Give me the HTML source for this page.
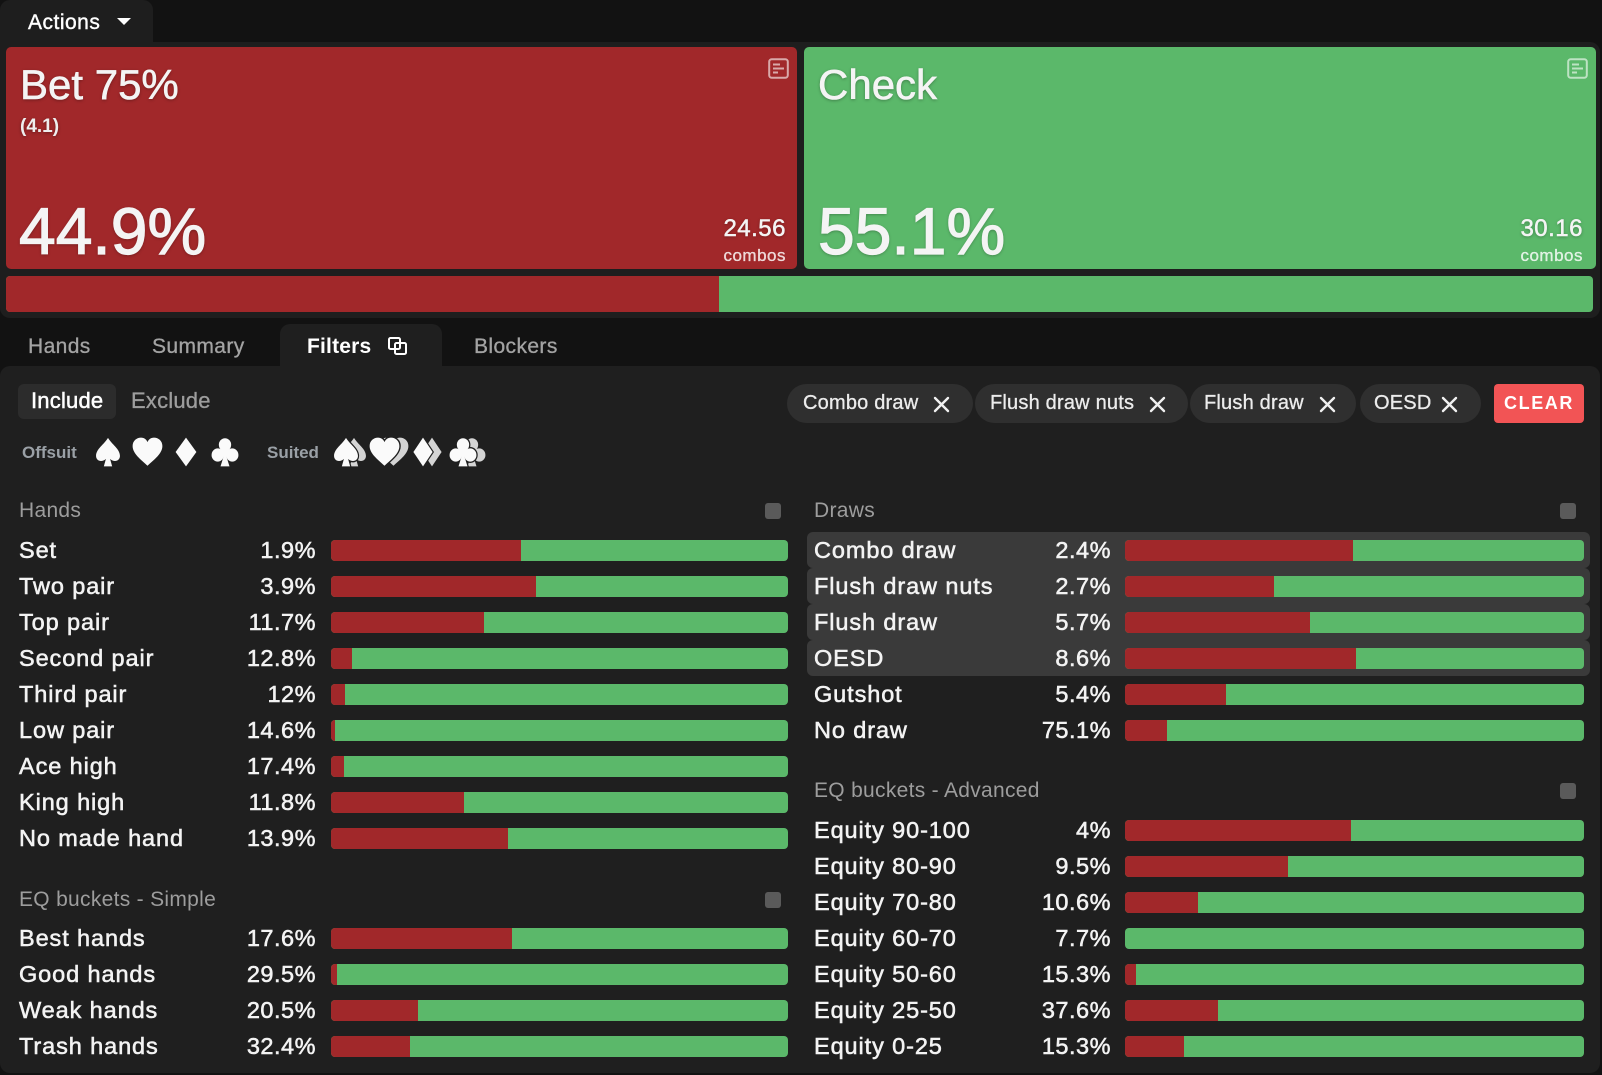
<!DOCTYPE html>
<html>
<head>
<meta charset="utf-8">
<style>
*{margin:0;padding:0;box-sizing:border-box}
html,body{width:1602px;height:1075px;background:#121212;overflow:hidden}
body{position:relative;font-family:"Liberation Sans",Arial,sans-serif;color:#f2f2f2}
.a{position:absolute;white-space:nowrap}
.panel{position:absolute;background:#1e1e1e}
.card{position:absolute;top:47px;height:222px;border-radius:5px}
.sh{text-shadow:0 1px 3px rgba(0,0,0,.35)}
.st{-webkit-text-stroke:.6px currentColor}
.r{position:absolute;left:0;width:1602px;height:36px}
.r .l,.r .v{position:absolute;top:0;line-height:36px;font-size:23.5px;letter-spacing:.9px;color:#f3f3f3;-webkit-text-stroke:.55px #f3f3f3}
.r .v{text-align:right;letter-spacing:.5px}
.r .b{position:absolute;top:8px;height:21px;background:#5bb86a;border-radius:4px;overflow:hidden}
.r .b i{position:absolute;left:0;top:0;bottom:0;background:#a1282a;display:block}
.L .l{left:19px}.L .v{left:180px;width:136px}.L .b{left:331px;width:457px}
.R .l{left:814px}.R .v{left:975px;width:136px}.R .b{left:1125px;width:459px}
.hl{position:absolute;left:807px;width:783px;height:36px;background:#3a3a3a;border-radius:6px}
.ttl{position:absolute;font-size:21px;line-height:21px;color:#9d9d9d;letter-spacing:.3px}
.cb{position:absolute;width:16px;height:16px;border-radius:3px;background:#5a5a5a}
.chip{position:absolute;top:384px;height:39px;border-radius:20px;background:#2f2f2f}
.chip span{position:absolute;top:0;line-height:39px;font-size:20px;color:#ececec;letter-spacing:.2px;-webkit-text-stroke:.3px #ececec}
.tab{position:absolute;top:336px;font-size:21px;line-height:21px;color:#a3a3a3;letter-spacing:.4px;-webkit-text-stroke:.3px #a3a3a3}
</style>
</head>
<body>

<!-- Actions tab -->
<div class="panel" style="left:0;top:0;width:153px;height:44px;border-radius:10px 10px 0 0"></div>
<div class="a" style="left:28px;top:12px;font-size:21px;line-height:21px;letter-spacing:.5px;color:#fff;-webkit-text-stroke:.4px #fff">Actions</div>
<svg class="a" style="left:117px;top:18px" width="15" height="8"><polygon points="0,0 14,0 7,7" fill="#fff"/></svg>

<!-- top panel -->
<div class="panel" style="left:0;top:42px;width:1600px;height:276px;border-radius:0 10px 10px 10px"></div>

<!-- Bet card -->
<div class="card" style="left:6px;width:791px;background:#a1282a"></div>
<div class="a sh st" style="left:20px;top:64px;font-size:42px;line-height:42px;color:#f4f4f4">Bet 75%</div>
<div class="a sh" style="left:20px;top:117px;font-size:19px;line-height:19px;font-weight:bold;color:#eee">(4.1)</div>
<div class="a sh" style="left:19px;top:198px;font-size:66px;line-height:67px;color:#f4f4f4;-webkit-text-stroke:1.2px #f4f4f4">44.9%</div>
<div class="a sh" style="right:816px;top:217px;font-size:24px;line-height:24px;letter-spacing:.5px;color:#f4f4f4;-webkit-text-stroke:.5px #f4f4f4">24.56</div>
<div class="a" style="right:816px;top:247px;font-size:17px;line-height:17px;letter-spacing:.5px;color:rgba(255,255,255,.8);-webkit-text-stroke:.3px rgba(255,255,255,.8)">combos</div>
<svg class="a" style="left:768px;top:58px" width="21" height="21" viewBox="0 0 21 21"><rect x="1.2" y="1.2" width="18.6" height="18.6" rx="2.5" fill="none" stroke="rgba(255,255,255,.6)" stroke-width="2"/><rect x="5" y="5.5" width="7" height="2" fill="rgba(255,255,255,.6)"/><rect x="5" y="9.5" width="11" height="2" fill="rgba(255,255,255,.6)"/><rect x="5" y="13.5" width="5" height="2" fill="rgba(255,255,255,.6)"/></svg>

<!-- Check card -->
<div class="card" style="left:804px;width:792px;background:#5bb86a"></div>
<div class="a sh st" style="left:818px;top:64px;font-size:42px;line-height:42px;color:#f4f4f4">Check</div>
<div class="a sh" style="left:818px;top:198px;font-size:66px;line-height:67px;color:#f4f4f4;-webkit-text-stroke:1.2px #f4f4f4">55.1%</div>
<div class="a sh" style="right:19px;top:217px;font-size:24px;line-height:24px;letter-spacing:.5px;color:#f4f4f4;-webkit-text-stroke:.5px #f4f4f4">30.16</div>
<div class="a" style="right:19px;top:247px;font-size:17px;line-height:17px;letter-spacing:.5px;color:rgba(255,255,255,.8);-webkit-text-stroke:.3px rgba(255,255,255,.8)">combos</div>
<svg class="a" style="left:1567px;top:58px" width="21" height="21" viewBox="0 0 21 21"><rect x="1.2" y="1.2" width="18.6" height="18.6" rx="2.5" fill="none" stroke="rgba(255,255,255,.6)" stroke-width="2"/><rect x="5" y="5.5" width="7" height="2" fill="rgba(255,255,255,.6)"/><rect x="5" y="9.5" width="11" height="2" fill="rgba(255,255,255,.6)"/><rect x="5" y="13.5" width="5" height="2" fill="rgba(255,255,255,.6)"/></svg>

<!-- overall bar -->
<div class="a" style="left:6px;top:276px;width:1587px;height:36px;border-radius:4px;overflow:hidden;background:#5bb86a"><div style="width:713px;height:36px;background:#a1282a"></div></div>

<!-- tabs -->
<div class="panel" style="left:280px;top:324px;width:162px;height:44px;border-radius:10px 10px 0 0;background:#1f1f1f"></div>
<div class="tab" style="left:28px">Hands</div>
<div class="tab" style="left:152px">Summary</div>
<div class="tab" style="left:307px;color:#fff;font-weight:bold;letter-spacing:.2px;-webkit-text-stroke:0">Filters</div>
<svg class="a" style="left:388px;top:337px" width="20" height="18" viewBox="0 0 20 18"><rect x="1" y="1" width="11" height="11" rx="1.5" fill="none" stroke="#fff" stroke-width="2"/><rect x="7" y="6" width="11" height="11" rx="1.5" fill="none" stroke="#fff" stroke-width="2"/></svg>
<div class="tab" style="left:474px">Blockers</div>

<!-- content panel -->
<div class="panel" style="left:0;top:366px;width:1600px;height:707px;background:#1f1f1f;border-radius:10px 10px 10px 10px"></div>

<!-- include / exclude -->
<div class="a" style="left:18px;top:384px;width:98px;height:35px;border-radius:6px;background:#2c2c2c"></div>
<div class="a" style="left:31px;top:390px;font-size:22px;line-height:22px;color:#fff;letter-spacing:.2px;-webkit-text-stroke:.5px #fff">Include</div>
<div class="a" style="left:131px;top:390px;font-size:22px;line-height:22px;color:#9d9d9d;letter-spacing:.2px;-webkit-text-stroke:.3px #9d9d9d">Exclude</div>

<!-- suits -->
<div class="a" style="left:22px;top:444px;font-size:17px;line-height:17px;font-weight:bold;color:#9aa0a6">Offsuit</div>
<div class="a" style="left:267px;top:444px;font-size:17px;line-height:17px;font-weight:bold;color:#9aa0a6">Suited</div>
<svg class="a" style="left:0;top:430px" width="500" height="45" viewBox="0 430 500 45">
<defs>
<path id="sp" d="M50 3 C36 24 4 40 4 63 C4 80 26 86 42 73 L34 98 L66 98 L58 73 C74 86 96 80 96 63 C96 40 64 24 50 3 Z"/>
<path id="ht" d="M50 96 C30 76 2 56 2 30 C2 12 16 2 29 2 C40 2 47 9 50 17 C53 9 60 2 71 2 C84 2 98 12 98 30 C98 56 70 76 50 96 Z"/>
<path id="dm" d="M50 2 L90 50 L50 98 L10 50 Z"/>
<g id="cl"><circle cx="50" cy="26" r="22"/><circle cx="24" cy="60" r="22"/><circle cx="76" cy="60" r="22"/><rect x="38" y="35" width="24" height="30"/><path d="M50 50 L34 98 L66 98 Z"/></g>
</defs>
<g fill="#fafafa">
<use href="#sp" transform="translate(95,437) scale(.26,.30)"/>
<use href="#ht" transform="translate(132,437) scale(.31,.30)"/>
<use href="#dm" transform="translate(173,437) scale(.26,.30)"/>
<use href="#cl" transform="translate(211,437) scale(.28,.30)"/>
</g>
<g fill="#d4d4d4">
<use href="#sp" transform="translate(341,437) scale(.26,.30)"/>
<use href="#ht" transform="translate(378,437) scale(.31,.30)"/>
<use href="#dm" transform="translate(420,437) scale(.24,.30)"/>
<use href="#cl" transform="translate(458,437) scale(.28,.30)"/>
</g>
<g fill="#1f1f1f" stroke="#1f1f1f" stroke-width="9">
<use href="#sp" transform="translate(333,437) scale(.26,.30)"/>
<use href="#ht" transform="translate(369,437) scale(.31,.30)"/>
<use href="#dm" transform="translate(411,437) scale(.24,.30)"/>
<use href="#cl" transform="translate(449,437) scale(.28,.30)"/>
</g>
<g fill="#fafafa">
<use href="#sp" transform="translate(333,437) scale(.26,.30)"/>
<use href="#ht" transform="translate(369,437) scale(.31,.30)"/>
<use href="#dm" transform="translate(411,437) scale(.24,.30)"/>
<use href="#cl" transform="translate(449,437) scale(.28,.30)"/>
</g>
</svg>

<!-- chips -->
<div class="chip" style="left:787px;width:186px"><span style="left:16px">Combo draw</span></div>
<div class="chip" style="left:975px;width:213px"><span style="left:15px">Flush draw nuts</span></div>
<div class="chip" style="left:1190px;width:166px"><span style="left:14px">Flush draw</span></div>
<div class="chip" style="left:1360px;width:121px"><span style="left:14px">OESD</span></div>
<svg class="a" style="left:0;top:395px" width="1602" height="18" viewBox="0 395 1602 18">
<g stroke="#f0f0f0" stroke-width="2.4" stroke-linecap="round">
<path d="M935 398 L948 411 M948 398 L935 411"/>
<path d="M1151 398 L1164 411 M1164 398 L1151 411"/>
<path d="M1321 398 L1334 411 M1334 398 L1321 411"/>
<path d="M1443 398 L1456 411 M1456 398 L1443 411"/>
</g></svg>
<div class="a" style="left:1494px;top:384px;width:90px;height:39px;border-radius:4px;background:#f25455;color:#fff;font-weight:bold;font-size:18px;line-height:39px;letter-spacing:1.6px;text-align:center">CLEAR</div>

<!-- section titles -->
<div class="ttl" style="left:19px;top:500px">Hands</div>
<div class="cb" style="left:765px;top:503px"></div>
<div class="ttl" style="left:814px;top:500px">Draws</div>
<div class="cb" style="left:1560px;top:503px"></div>
<div class="ttl" style="left:19px;top:889px">EQ buckets - Simple</div>
<div class="cb" style="left:765px;top:892px"></div>
<div class="ttl" style="left:814px;top:780px">EQ buckets - Advanced</div>
<div class="cb" style="left:1560px;top:783px"></div>

<!-- Hands rows -->
<div class="r L" style="top:532px"><span class="l">Set</span><span class="v">1.9%</span><div class="b"><i style="width:41.6%"></i></div></div>
<div class="r L" style="top:568px"><span class="l">Two pair</span><span class="v">3.9%</span><div class="b"><i style="width:44.8%"></i></div></div>
<div class="r L" style="top:604px"><span class="l">Top pair</span><span class="v">11.7%</span><div class="b"><i style="width:33.4%"></i></div></div>
<div class="r L" style="top:640px"><span class="l">Second pair</span><span class="v">12.8%</span><div class="b"><i style="width:4.6%"></i></div></div>
<div class="r L" style="top:676px"><span class="l">Third pair</span><span class="v">12%</span><div class="b"><i style="width:3.1%"></i></div></div>
<div class="r L" style="top:712px"><span class="l">Low pair</span><span class="v">14.6%</span><div class="b"><i style="width:0.9%"></i></div></div>
<div class="r L" style="top:748px"><span class="l">Ace high</span><span class="v">17.4%</span><div class="b"><i style="width:2.8%"></i></div></div>
<div class="r L" style="top:784px"><span class="l">King high</span><span class="v">11.8%</span><div class="b"><i style="width:29%"></i></div></div>
<div class="r L" style="top:820px"><span class="l">No made hand</span><span class="v">13.9%</span><div class="b"><i style="width:38.7%"></i></div></div>

<!-- EQ simple rows -->
<div class="r L" style="top:920px"><span class="l">Best hands</span><span class="v">17.6%</span><div class="b"><i style="width:39.6%"></i></div></div>
<div class="r L" style="top:956px"><span class="l">Good hands</span><span class="v">29.5%</span><div class="b"><i style="width:1.3%"></i></div></div>
<div class="r L" style="top:992px"><span class="l">Weak hands</span><span class="v">20.5%</span><div class="b"><i style="width:19%"></i></div></div>
<div class="r L" style="top:1028px"><span class="l">Trash hands</span><span class="v">32.4%</span><div class="b"><i style="width:17.2%"></i></div></div>

<!-- Draws highlights -->
<div class="hl" style="top:532px"></div>
<div class="hl" style="top:568px"></div>
<div class="hl" style="top:604px"></div>
<div class="hl" style="top:640px"></div>

<!-- Draws rows -->
<div class="r R" style="top:532px"><span class="l">Combo draw</span><span class="v">2.4%</span><div class="b"><i style="width:49.7%"></i></div></div>
<div class="r R" style="top:568px"><span class="l">Flush draw nuts</span><span class="v">2.7%</span><div class="b"><i style="width:32.5%"></i></div></div>
<div class="r R" style="top:604px"><span class="l">Flush draw</span><span class="v">5.7%</span><div class="b"><i style="width:40.3%"></i></div></div>
<div class="r R" style="top:640px"><span class="l">OESD</span><span class="v">8.6%</span><div class="b"><i style="width:50.4%"></i></div></div>
<div class="r R" style="top:676px"><span class="l">Gutshot</span><span class="v">5.4%</span><div class="b"><i style="width:21.9%"></i></div></div>
<div class="r R" style="top:712px"><span class="l">No draw</span><span class="v">75.1%</span><div class="b"><i style="width:9.2%"></i></div></div>

<!-- EQ advanced rows -->
<div class="r R" style="top:812px"><span class="l">Equity 90-100</span><span class="v">4%</span><div class="b"><i style="width:49.2%"></i></div></div>
<div class="r R" style="top:848px"><span class="l">Equity 80-90</span><span class="v">9.5%</span><div class="b"><i style="width:35.5%"></i></div></div>
<div class="r R" style="top:884px"><span class="l">Equity 70-80</span><span class="v">10.6%</span><div class="b"><i style="width:15.9%"></i></div></div>
<div class="r R" style="top:920px"><span class="l">Equity 60-70</span><span class="v">7.7%</span><div class="b"><i style="width:0%"></i></div></div>
<div class="r R" style="top:956px"><span class="l">Equity 50-60</span><span class="v">15.3%</span><div class="b"><i style="width:2.4%"></i></div></div>
<div class="r R" style="top:992px"><span class="l">Equity 25-50</span><span class="v">37.6%</span><div class="b"><i style="width:20.3%"></i></div></div>
<div class="r R" style="top:1028px"><span class="l">Equity 0-25</span><span class="v">15.3%</span><div class="b"><i style="width:12.9%"></i></div></div>

</body>
</html>
